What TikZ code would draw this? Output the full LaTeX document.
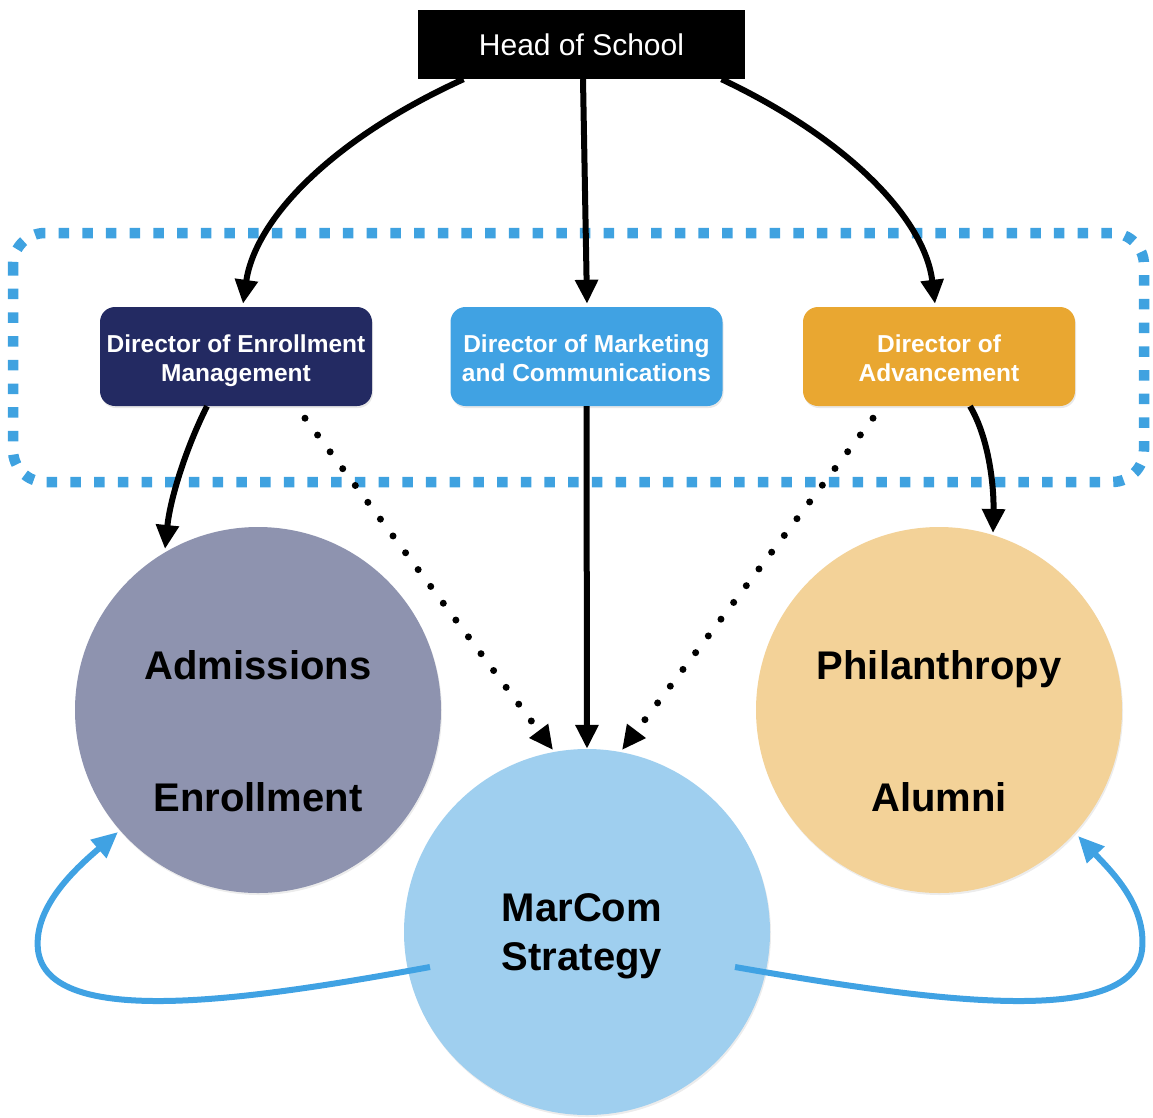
\documentclass[tikz,border=0pt]{standalone}
\usepackage{fontspec}
\setmainfont{Liberation Sans}
\usetikzlibrary{arrows.meta,calc,shadows}
\definecolor{navy}{HTML}{232A62}
\definecolor{mblue}{HTML}{40A2E3}
\definecolor{dorange}{HTML}{E9A731}
\definecolor{greyc}{HTML}{8E93AF}
\definecolor{lorange}{HTML}{F3D298}
\definecolor{lblue}{HTML}{9FCFEF}
\definecolor{frameblue}{HTML}{3FA2E0}
\begin{document}
\begin{tikzpicture}[x=1pt,y=-1pt,
  dirbox/.style={rounded corners=15pt, minimum width=272pt, minimum height=99pt,
    inner sep=0pt,
    drop shadow={opacity=0.18, shadow xshift=1pt, shadow yshift=-2pt}},
  dirtext/.style={text=white, align=center, inner sep=0pt, anchor=base,
    font=\bfseries\fontsize{24.5}{29}\selectfont},
  bigcirc/.style={circle, minimum size=366pt, inner sep=0pt,
    drop shadow={opacity=0.15, shadow xshift=1pt, shadow yshift=-2pt}},
  ctext/.style={font=\bfseries\fontsize{40}{48}\selectfont, anchor=base},
  blk/.style={line width=6pt, -{Triangle[length=24pt,width=22pt]}},
  dotarrow/.style={line width=7pt, line cap=round, dash pattern=on 0pt off 21pt,
    -{Triangle[length=24pt,width=22pt,line cap=butt]}},
  bluearrow/.style={draw=mblue, line width=6pt, -{Triangle[length=26pt,width=23pt]}}
]
\useasboundingbox (0,0) rectangle (1153,1117);

% dotted frame
\draw[frameblue, line width=10.5pt, dash pattern=on 10.5pt off 13.2pt, rounded corners=32pt]
  (13,233) rectangle (1144,482);

% head
\node[fill=black, minimum width=327pt, minimum height=69pt, inner sep=0pt,
  text=white, font=\fontsize{30}{36}\selectfont] (head) at (581.5,44.5) {Head of School};

% directors
\node[dirbox, fill=navy] (dem) at (236,356.5) {};
\node[dirbox, fill=mblue] (dmc) at (586.5,356.5) {};
\node[dirbox, fill=dorange] (dad) at (939,356.5) {};
\node[dirtext] (demt) at ($(dem.center)+(0,24.5)$) {Director of Enrollment\\Management};
\node[dirtext] (dmct) at ($(dmc.center)+(0,24.5)$) {Director of Marketing\\and Communications};
\node[dirtext] (dadt) at ($(dad.center)+(0,24.5)$) {Director of\\Advancement};

% circles
\node[bigcirc, fill=greyc] (adm) at (258,710) {};
\node[bigcirc, fill=lorange] (phil) at (939,710) {};
\node[bigcirc, fill=lblue] (mar) at (587,932) {};

\node[ctext] (t1) at (258,679) {Admissions};
\node[ctext] (t2) at (258,811) {Enrollment};
\node[ctext] (t3) at (939,679) {Philanthropy};
\node[ctext] (t4) at (939,811) {Alumni};
\node[ctext] (t5) at (582,921) {MarCom};
\node[ctext] (t6) at (582,970) {Strategy};

% head arrows
\draw[blk] ($(head.south)+(-118,0)$) .. controls (330,140) and (255,220) .. ($(dem.north)+(7,-3)$);
\draw[blk] ($(head.south)+(1.5,0)$) -- ($(dmc.north)+(0.5,-3)$);
\draw[blk] ($(head.south)+(140,0)$) .. controls (850,140) and (925,220) .. ($(dad.north)+(-4,-3)$);

% director to circles
\draw[blk] ($(dem.south)+(-29,0)$) .. controls (185,450) and (170,500) .. ($(adm.center)+(-93,-161)$);
\draw[blk] ($(dad.south)+(31,0)$) .. controls (990,440) and (994,490) .. ($(phil.center)+(54,-177)$);
\draw[blk] (dmc.south) -- (mar.north);

% dotted arrows
\draw[dotarrow] ($(dem.south)+(69,12)$) -- ($(mar.center)+(-34,-182)$);
\draw[dotarrow] ($(dad.south)+(-66,12)$) -- ($(mar.center)+(35,-182)$);

% blue feedback arrows
\draw[bluearrow] ($(mar.center)+(-157,35)$) .. controls (250,1000) and (48,1030) .. (38,950)
  .. controls (33,905) and (80,865) .. ($(adm.center)+(-140,122)$);
\draw[bluearrow] ($(mar.center)+(148,35)$) .. controls (925,1000) and (1132,1030) .. (1142,950)
  .. controls (1147,905) and (1110,870) .. ($(phil.center)+(139,126)$);
\end{tikzpicture}
\end{document}
